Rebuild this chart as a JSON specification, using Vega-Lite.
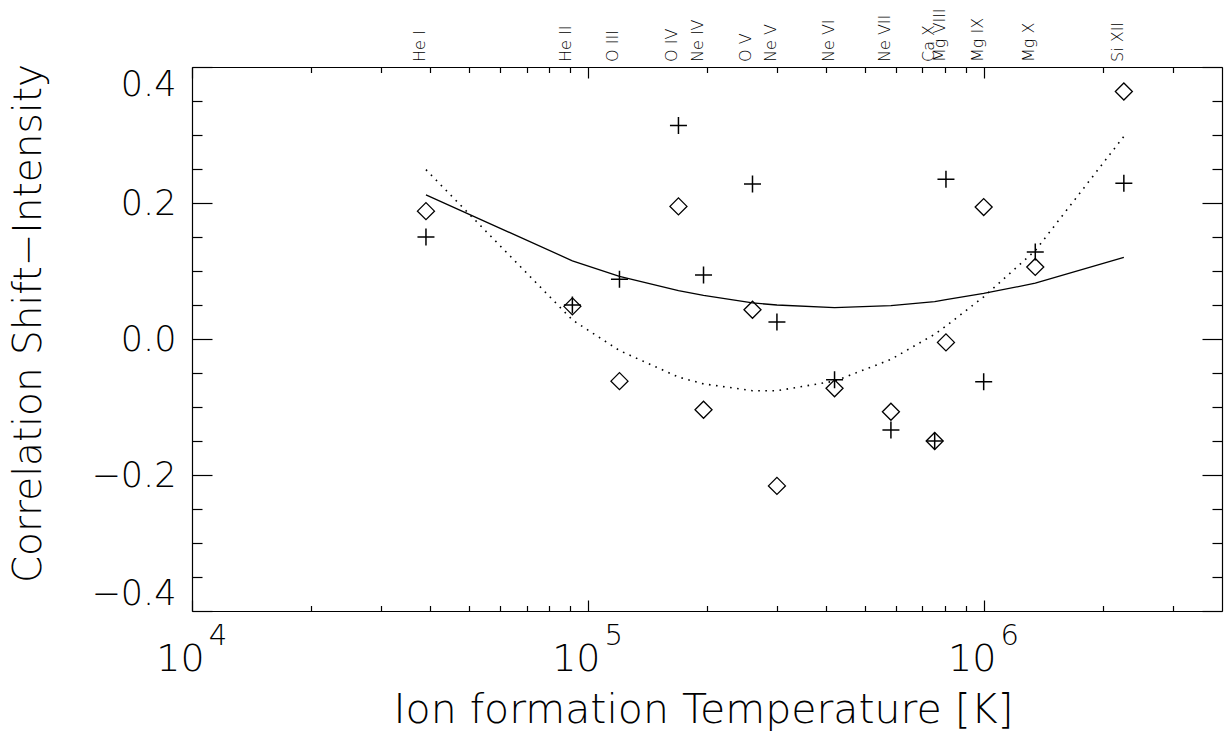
{
  "$schema": "https://vega.github.io/schema/vega-lite/v6.json",
  "width": 1030,
  "height": 544,
  "autosize": "none",
  "padding": {"left": 192, "top": 67, "right": 7, "bottom": 125},
  "background": "white",
  "config": {
    "view": {"stroke": null},
    "font": "DejaVu Sans",
    "axis": {
      "grid": false,
      "domainColor": "black",
      "domainWidth": 1.2,
      "tickColor": "black",
      "tickWidth": 1.2,
      "labelColor": "black",
      "titleColor": "black",
      "labelFont": "DejaVu Sans",
      "titleFont": "DejaVu Sans",
      "labelFontWeight": 200,
      "titleFontWeight": 200
    }
  },
  "datasets": {
    "ions": [
      {"ion": "He I", "T": 39000, "diamond": 0.188, "cross": 0.150, "fit_solid": 0.212, "fit_dotted": 0.249},
      {"ion": "He II", "T": 91400, "diamond": 0.048, "cross": 0.050, "fit_solid": 0.115, "fit_dotted": 0.028},
      {"ion": "O III", "T": 120200, "diamond": -0.062, "cross": 0.088, "fit_solid": 0.092, "fit_dotted": -0.017},
      {"ion": "O IV", "T": 169400, "diamond": 0.195, "cross": 0.314, "fit_solid": 0.071, "fit_dotted": -0.056},
      {"ion": "Ne IV", "T": 196000, "diamond": -0.104, "cross": 0.094, "fit_solid": 0.064, "fit_dotted": -0.066},
      {"ion": "O V", "T": 260600, "diamond": 0.043, "cross": 0.228, "fit_solid": 0.053, "fit_dotted": -0.076},
      {"ion": "Ne V", "T": 300400, "diamond": -0.216, "cross": 0.025, "fit_solid": 0.050, "fit_dotted": -0.076},
      {"ion": "Ne VI", "T": 420000, "diamond": -0.0725, "cross": -0.060, "fit_solid": 0.046, "fit_dotted": -0.062},
      {"ion": "Ne VII", "T": 583000, "diamond": -0.107, "cross": -0.134, "fit_solid": 0.049, "fit_dotted": -0.030},
      {"ion": "Ca X", "T": 752000, "diamond": -0.150, "cross": -0.150, "fit_solid": 0.055, "fit_dotted": 0.007},
      {"ion": "Mg VIII", "T": 803000, "diamond": -0.005, "cross": 0.235, "fit_solid": 0.058, "fit_dotted": 0.019},
      {"ion": "Mg IX", "T": 1000000, "diamond": 0.194, "cross": -0.063, "fit_solid": 0.067, "fit_dotted": 0.062},
      {"ion": "Mg X", "T": 1350000, "diamond": 0.106, "cross": 0.128, "fit_solid": 0.082, "fit_dotted": 0.130},
      {"ion": "Si XII", "T": 2260000, "diamond": 0.364, "cross": 0.229, "fit_solid": 0.120, "fit_dotted": 0.298}
    ],
    "exps": [
      {"T": 10000, "e": "4"},
      {"T": 100000, "e": "5"},
      {"T": 1000000, "e": "6"}
    ]
  },
  "resolve": {"axis": {"x": "independent", "y": "independent"}},
  "layer": [
    {
      "data": {"name": "ions"},
      "mark": {"type": "line", "color": "black", "strokeWidth": 1.3},
      "encoding": {
        "x": {
          "field": "T", "type": "quantitative",
          "scale": {"type": "log", "domain": [10000, 4000000], "nice": false},
          "axis": {
            "orient": "bottom",
            "values": [10000, 100000, 1000000],
            "tickSize": -11,
            "labelExpr": "'10'",
            "labelFontSize": 38,
            "labelPadding": 40,
            "labelFlush": false,
            "labelOverlap": false,
            "labelOffset": -12,
            "title": "Ion formation Temperature [K]",
            "titleFontSize": 41,
            "titleBaseline": "alphabetic",
            "titleY": 111,
            "titleX": 511
          }
        },
        "y": {
          "field": "fit_solid", "type": "quantitative",
          "scale": {"domain": [-0.4, 0.4], "nice": false, "zero": false},
          "axis": {
            "orient": "left",
            "values": [-0.4, -0.2, 0, 0.2, 0.4],
            "tickSize": -20,
            "format": ".1f",
            "labelFontSize": 35,
            "labelPadding": 36,
            "labelFlush": true,
            "labelOverlap": false,
            "title": "Correlation Shift−Intensity",
            "titleFontSize": 39,
            "titleBaseline": "alphabetic",
            "titleX": -152,
            "titleY": 256
          }
        }
      }
    },
    {
      "data": {"name": "ions"},
      "mark": {"type": "line", "color": "black", "strokeWidth": 1.6, "strokeDash": [1.6, 5.5]},
      "encoding": {
        "x": {
          "field": "T", "type": "quantitative",
          "scale": {"type": "log", "domain": [10000, 4000000], "nice": false},
          "axis": {
            "orient": "bottom",
            "values": [20000, 30000, 40000, 50000, 60000, 70000, 80000, 90000, 200000, 300000, 400000, 500000, 600000, 700000, 800000, 900000, 2000000, 3000000],
            "tickSize": -5.5,
            "labels": false,
            "domain": false,
            "title": null
          }
        },
        "y": {
          "field": "fit_dotted", "type": "quantitative",
          "scale": {"domain": [-0.4, 0.4], "nice": false, "zero": false},
          "axis": {
            "orient": "left",
            "values": [-0.35, -0.3, -0.25, -0.15, -0.1, -0.05, 0.05, 0.1, 0.15, 0.25, 0.3, 0.35],
            "tickSize": -10,
            "labels": false,
            "domain": false,
            "title": null
          }
        }
      }
    },
    {
      "data": {"name": "ions"},
      "mark": {"type": "point", "shape": "M-1,0L0,-1L1,0L0,1Z", "size": 289, "filled": false, "stroke": "black", "strokeWidth": 1.3, "opacity": 1},
      "encoding": {
        "x": {
          "field": "T", "type": "quantitative",
          "scale": {"type": "log", "domain": [10000, 4000000], "nice": false},
          "axis": {
            "orient": "top",
            "values": [10000, 100000, 1000000],
            "tickSize": -11,
            "labels": false,
            "title": null
          }
        },
        "y": {
          "field": "diamond", "type": "quantitative",
          "scale": {"domain": [-0.4, 0.4], "nice": false, "zero": false},
          "axis": {
            "orient": "right",
            "values": [-0.4, -0.2, 0, 0.2, 0.4],
            "tickSize": -20,
            "labels": false,
            "title": null
          }
        }
      }
    },
    {
      "data": {"name": "ions"},
      "mark": {"type": "point", "shape": "M-1,0L1,0M0,-1L0,1", "size": 289, "filled": false, "stroke": "black", "strokeWidth": 1.5, "opacity": 1},
      "encoding": {
        "x": {
          "field": "T", "type": "quantitative",
          "scale": {"type": "log", "domain": [10000, 4000000], "nice": false},
          "axis": {
            "orient": "top",
            "values": [20000, 30000, 40000, 50000, 60000, 70000, 80000, 90000, 200000, 300000, 400000, 500000, 600000, 700000, 800000, 900000, 2000000, 3000000],
            "tickSize": -5.5,
            "labels": false,
            "domain": false,
            "title": null
          }
        },
        "y": {
          "field": "cross", "type": "quantitative",
          "scale": {"domain": [-0.4, 0.4], "nice": false, "zero": false},
          "axis": {
            "orient": "right",
            "values": [-0.35, -0.3, -0.25, -0.15, -0.1, -0.05, 0.05, 0.1, 0.15, 0.25, 0.3, 0.35],
            "tickSize": -10,
            "labels": false,
            "domain": false,
            "title": null
          }
        }
      }
    },
    {
      "mark": {"type": "rule", "color": "#333333", "strokeWidth": 1.5},
      "encoding": {
        "y": {"datum": 0, "type": "quantitative", "scale": {"domain": [-0.4, 0.4], "nice": false, "zero": false}, "axis": null}
      }
    },
    {
      "data": {"name": "ions"},
      "mark": {"type": "text", "angle": 270, "align": "left", "baseline": "alphabetic", "dx": 5, "dy": -1, "fontSize": 16, "font": "DejaVu Sans", "fontWeight": 200, "color": "black"},
      "encoding": {
        "x": {"field": "T", "type": "quantitative", "scale": {"type": "log", "domain": [10000, 4000000], "nice": false}, "axis": null},
        "y": {"datum": 0.4, "type": "quantitative", "scale": {"domain": [-0.4, 0.4], "nice": false, "zero": false}, "axis": null},
        "text": {"field": "ion"}
      }
    },
    {
      "data": {"name": "exps"},
      "mark": {"type": "text", "align": "center", "baseline": "middle", "dx": 26, "dy": 25, "fontSize": 29, "font": "DejaVu Sans", "fontWeight": 200, "color": "black"},
      "encoding": {
        "x": {"field": "T", "type": "quantitative", "scale": {"type": "log", "domain": [10000, 4000000], "nice": false}, "axis": null},
        "y": {"datum": -0.4, "type": "quantitative", "scale": {"domain": [-0.4, 0.4], "nice": false, "zero": false}, "axis": null},
        "text": {"field": "e"}
      }
    }
  ]
}
